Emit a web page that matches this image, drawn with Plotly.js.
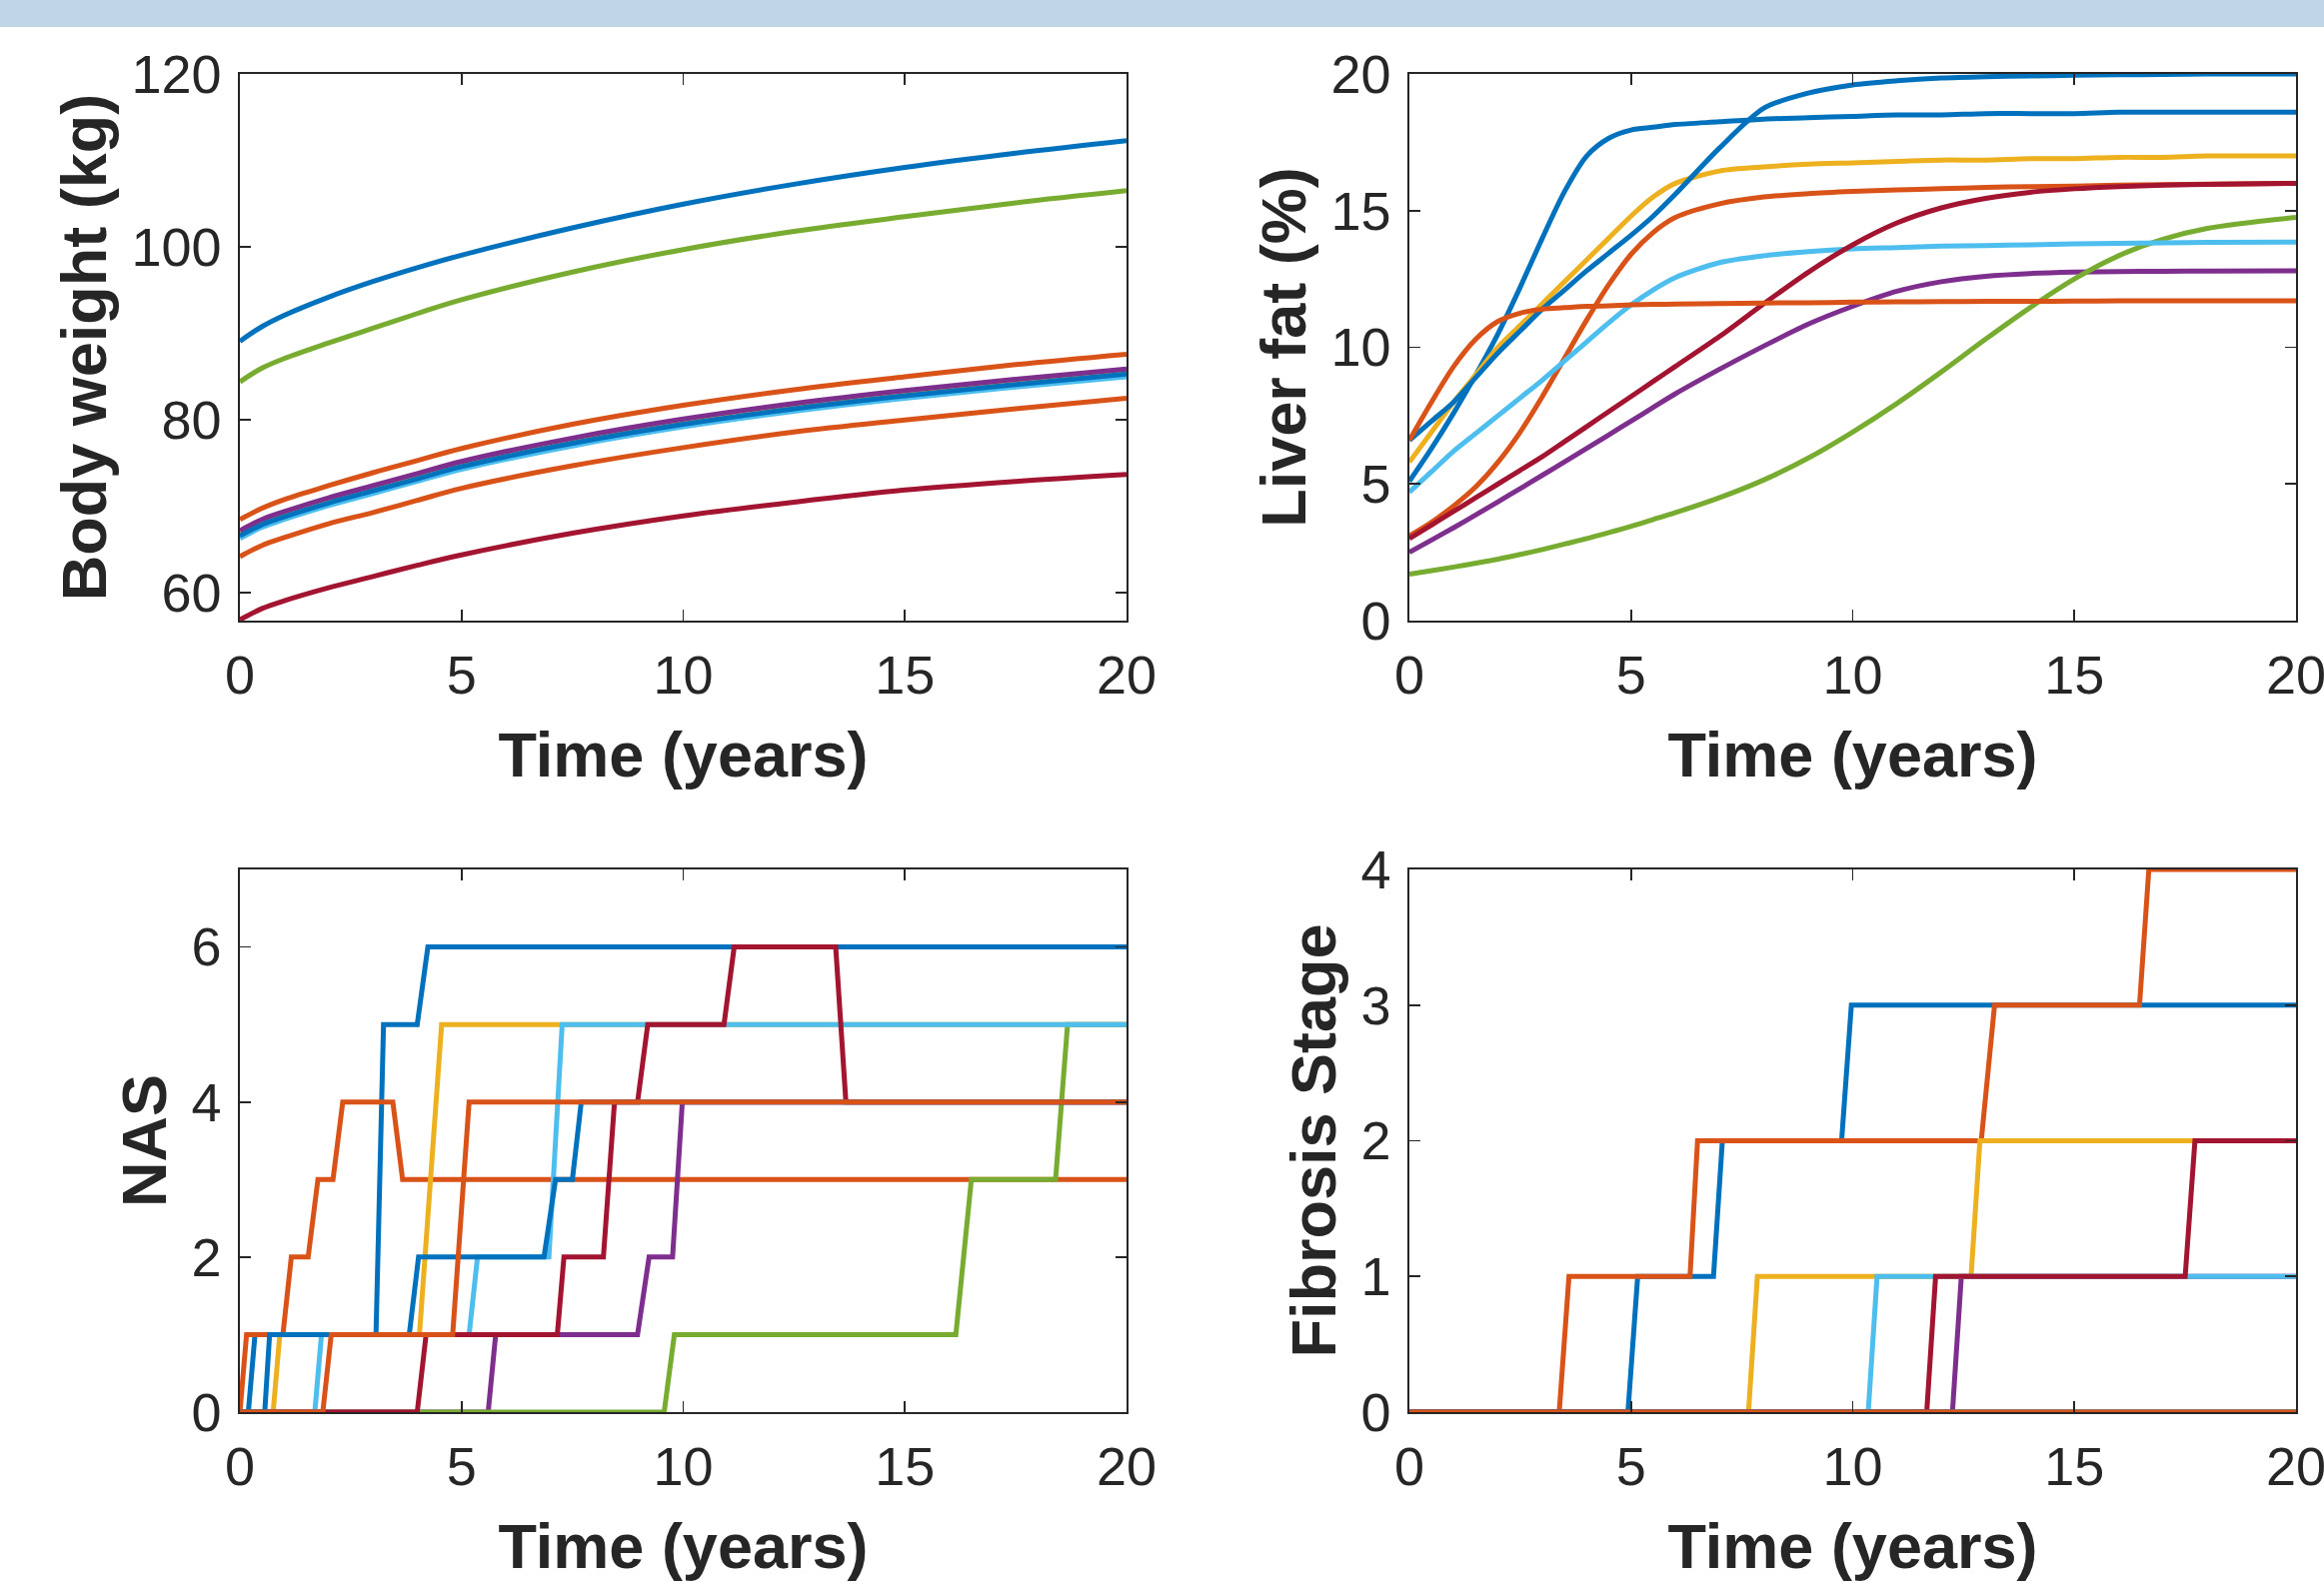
<!DOCTYPE html>
<html><head><meta charset="utf-8">
<script src="https://cdn.plot.ly/plotly-3.0.1.min.js"></script>
<style>html,body{margin:0;padding:0;background:#fff;overflow:hidden;} #chart{width:2325px;height:1586px;}</style>
</head><body><div id="chart"></div>
<script>
// MATLAB default colour order, 9 simulated patients
const seriesColors = ['#0072BD','#D95319','#EDB120','#7E2F8E','#77AC30','#4DBEEE','#A2142F','#0072BD','#D95319'];
const xTickVals = [0, 5, 10, 15, 20];

// ---------- Body weight (kg) ----------
const bwTime = [0, 0.5, 1, 2, 3, 4, 5, 7.5, 10, 12.5, 15, 17.5, 20];
const bw1 = [89.1, 90.8, 92.1, 94.2, 96.0, 97.6, 99.05, 102.2, 104.95, 107.25, 109.2, 110.85, 112.3];
const bw2 = [68.5, 69.8, 70.8, 72.4, 73.9, 75.3, 76.7, 79.5, 81.7, 83.5, 85.0, 86.4, 87.6];
const bw3 = [66.9, 68.2, 69.1, 70.7, 72.1, 73.5, 74.9, 77.6, 79.8, 81.6, 83.1, 84.4, 85.6];
const bw4 = [67.2, 68.5, 69.4, 71.0, 72.4, 73.8, 75.2, 77.9, 80.1, 81.9, 83.4, 84.7, 85.9];
const bw5 = [84.4, 86.0, 87.1, 88.9, 90.6, 92.3, 93.9, 97.1, 99.7, 101.8, 103.5, 105.1, 106.5];
const bw6 = [66.3, 67.6, 68.5, 70.1, 71.5, 72.9, 74.3, 77.0, 79.2, 81.0, 82.5, 83.8, 85.0];
const bw7 = [56.9, 58.2, 59.1, 60.6, 61.9, 63.2, 64.4, 66.9, 68.9, 70.5, 71.9, 72.9, 73.7];
const bw8 = [66.6, 67.9, 68.8, 70.4, 71.8, 73.2, 74.6, 77.3, 79.5, 81.3, 82.8, 84.1, 85.3];
const bw9 = [64.2, 65.5, 66.4, 68.0, 69.3, 70.7, 72.1, 74.7, 76.8, 78.6, 80.0, 81.3, 82.5];

// ---------- Liver fat (%) ----------
const lfTime = [0, 0.5, 1, 1.5, 2, 2.5, 3, 3.5, 4, 4.5, 5, 5.5, 6, 7, 8, 9, 10, 11, 12, 13, 14, 15, 16, 17, 18, 20];
const lf1 = [5.1, 6.3, 7.6, 9.0, 10.5, 12.2, 14.0, 15.7, 17.0, 17.65, 17.95, 18.05, 18.15, 18.25, 18.35, 18.4, 18.45, 18.5, 18.5, 18.55, 18.55, 18.55, 18.6, 18.6, 18.6, 18.6];
const lf2 = [3.1, 3.6, 4.2, 4.9, 5.8, 6.9, 8.2, 9.6, 11.0, 12.3, 13.4, 14.2, 14.75, 15.25, 15.5, 15.62, 15.7, 15.76, 15.8, 15.85, 15.88, 15.9, 15.93, 15.95, 15.97, 16.0];
const lf3 = [5.8, 6.9, 8.0, 9.0, 10.0, 10.8, 11.6, 12.4, 13.2, 14.0, 14.8, 15.5, 16.0, 16.45, 16.6, 16.7, 16.75, 16.8, 16.85, 16.85, 16.9, 16.9, 16.95, 16.95, 17.0, 17.0];
const lf4 = [2.5, 2.95, 3.4, 3.87, 4.35, 4.83, 5.32, 5.81, 6.3, 6.8, 7.3, 7.8, 8.3, 9.2, 10.05, 10.85, 11.5, 12.05, 12.4, 12.6, 12.7, 12.75, 12.77, 12.78, 12.79, 12.8];
const lf5 = [1.7, 1.83, 1.96, 2.1, 2.25, 2.42, 2.6, 2.8, 3.0, 3.22, 3.45, 3.7, 3.95, 4.5, 5.15, 5.95, 6.9, 7.95, 9.1, 10.3, 11.45, 12.5, 13.35, 13.95, 14.35, 14.75];
const lf6 = [4.7, 5.45, 6.2, 6.85, 7.5, 8.15, 8.8, 9.5, 10.2, 10.9, 11.55, 12.1, 12.55, 13.1, 13.35, 13.5, 13.6, 13.65, 13.7, 13.72, 13.75, 13.78, 13.8, 13.82, 13.84, 13.85];
const lf7 = [3.0, 3.5, 4.0, 4.5, 5.0, 5.5, 6.0, 6.55, 7.1, 7.65, 8.2, 8.75, 9.3, 10.4, 11.6, 12.75, 13.75, 14.55, 15.1, 15.45, 15.67, 15.8, 15.88, 15.93, 15.96, 16.0];
const lf8 = [6.6, 7.3, 8.0, 8.9, 9.8, 10.6, 11.4, 12.1, 12.8, 13.45, 14.1, 14.8, 15.6, 17.3, 18.75, 19.3, 19.6, 19.75, 19.85, 19.9, 19.93, 19.95, 19.97, 19.98, 20.0, 20.0];
const lf9 = [6.6, 8.0, 9.3, 10.3, 10.95, 11.25, 11.4, 11.45, 11.5, 11.52, 11.55, 11.57, 11.58, 11.6, 11.62, 11.63, 11.65, 11.66, 11.67, 11.68, 11.68, 11.69, 11.7, 11.7, 11.7, 11.7];

// ---------- NAS (step changes: time, score) ----------
const nasT1 = [0, 0.19, 0.34, 3.07, 3.24, 4.0, 4.24, 20];
const nasV1 = [0, 0, 1, 1, 5, 5, 6, 6];
const nasT2 = [0, 0.15, 0.97, 1.16, 1.54, 1.76, 2.1, 2.32, 3.45, 3.67, 20];
const nasV2 = [0, 1, 1, 2, 2, 3, 3, 4, 4, 3, 3];
const nasT3 = [0, 0.75, 0.9, 4.05, 4.55, 20];
const nasV3 = [0, 0, 1, 1, 5, 5];
const nasT4 = [0, 5.6, 5.77, 8.97, 9.23, 9.76, 9.98, 20];
const nasV4 = [0, 0, 1, 1, 2, 2, 4, 4];
const nasT5 = [0, 9.57, 9.8, 16.15, 16.5, 18.4, 18.67, 20];
const nasV5 = [0, 0, 1, 1, 3, 3, 5, 5];
const nasT6 = [0, 1.69, 1.84, 5.17, 5.36, 6.97, 7.27, 20];
const nasV6 = [0, 0, 1, 1, 2, 2, 5, 5];
const nasT7 = [0, 4.0, 4.2, 7.16, 7.31, 8.2, 8.45, 8.97, 9.2, 10.92, 11.15, 13.44, 13.67, 20];
const nasV7 = [0, 0, 1, 1, 2, 2, 4, 4, 5, 5, 6, 6, 4, 4];
const nasT8 = [0, 0.56, 0.67, 3.82, 4.03, 6.86, 7.12, 7.5, 7.7, 20];
const nasV8 = [0, 0, 1, 1, 2, 2, 3, 3, 4, 4];
const nasT9 = [0, 1.87, 2.06, 4.8, 5.17, 20];
const nasV9 = [0, 0, 1, 1, 4, 4];

// ---------- Fibrosis stage (time, stage) ----------
const fibT1 = [0, 4.93, 5.15, 6.86, 7.06, 9.75, 9.97, 20];
const fibV1 = [0, 0, 1, 1, 2, 2, 3, 3];
const fibT2 = [0, 3.38, 3.6, 6.33, 6.5, 12.9, 13.2, 16.47, 16.68, 20];
const fibV2 = [0, 0, 1, 1, 2, 2, 3, 3, 4, 4];
const fibT3 = [0, 7.65, 7.85, 12.67, 12.87, 20];
const fibV3 = [0, 0, 1, 1, 2, 2];
const fibT4 = [0, 12.25, 12.45, 20];
const fibV4 = [0, 0, 1, 1];
const fibT5 = [0, 20];
const fibV5 = [0, 0];
const fibT6 = [0, 10.35, 10.55, 20];
const fibV6 = [0, 0, 1, 1];
const fibT7 = [0, 11.67, 11.87, 17.5, 17.72, 20];
const fibV7 = [0, 0, 1, 1, 2, 2];
const fibT8 = [0, 20];
const fibV8 = [0, 0];
const fibT9 = [0, 20];
const fibV9 = [0, 0];

const bwSeries = [bw1, bw2, bw3, bw4, bw5, bw6, bw7, bw8, bw9];
const lfSeries = [lf1, lf2, lf3, lf4, lf5, lf6, lf7, lf8, lf9];
const nasTimes = [nasT1, nasT2, nasT3, nasT4, nasT5, nasT6, nasT7, nasT8, nasT9];
const nasVals = [nasV1, nasV2, nasV3, nasV4, nasV5, nasV6, nasV7, nasV8, nasV9];
const fibTimes = [fibT1, fibT2, fibT3, fibT4, fibT5, fibT6, fibT7, fibT8, fibT9];
const fibVals = [fibV1, fibV2, fibV3, fibV4, fibV5, fibV6, fibV7, fibV8, fibV9];

const LW = 5;
const traces = [];
for (let i = 0; i < 9; i++) {
  traces.push({x: bwTime, y: bwSeries[i], xaxis: 'x', yaxis: 'y', type: 'scatter', mode: 'lines',
    line: {color: seriesColors[i], width: LW, shape: 'spline', smoothing: 1}, showlegend: false, hoverinfo: 'skip'});
}
for (let i = 0; i < 9; i++) {
  traces.push({x: lfTime, y: lfSeries[i], xaxis: 'x2', yaxis: 'y2', type: 'scatter', mode: 'lines',
    line: {color: seriesColors[i], width: LW, shape: 'spline', smoothing: 0.8}, showlegend: false, hoverinfo: 'skip'});
}
for (let i = 0; i < 9; i++) {
  traces.push({x: nasTimes[i], y: nasVals[i], xaxis: 'x3', yaxis: 'y3', type: 'scatter', mode: 'lines',
    line: {color: seriesColors[i], width: LW}, showlegend: false, hoverinfo: 'skip'});
}
for (let i = 0; i < 9; i++) {
  traces.push({x: fibTimes[i], y: fibVals[i], xaxis: 'x4', yaxis: 'y4', type: 'scatter', mode: 'lines',
    line: {color: seriesColors[i], width: LW}, showlegend: false, hoverinfo: 'skip'});
}

const FONT = 'Liberation Sans, Arial, Helvetica, sans-serif';
const AX = '#262626';
const TITLE_FONT = {family: FONT, size: 63, color: AX, weight: 700};
function axisBase() {
  return {
    showline: true, linecolor: AX, linewidth: 1.6, mirror: 'ticks',
    ticks: 'inside', ticklen: 11, tickwidth: 1.6, tickcolor: AX,
    showgrid: false, zeroline: false, fixedrange: true,
    tickfont: {family: FONT, size: 54, color: AX},
    ticklabeloverflow: 'allow'
  };
}
function xAxis(domain, anchor) {
  return Object.assign(axisBase(), {
    domain: domain, anchor: anchor, range: [0, 20], tickvals: xTickVals, ticktext: xTickVals.map(String),
    ticklabelstandoff: 7,
    title: {text: 'Time (years)', font: TITLE_FONT, standoff: 28}
  });
}
function yAxis(domain, anchor, range, tickvals, label) {
  return Object.assign(axisBase(), {
    domain: domain, anchor: anchor, range: range, tickvals: tickvals, ticktext: tickvals.map(String),
    ticklabelstandoff: 6,
    title: {text: label, font: TITLE_FONT, standoff: 4}
  });
}

const W = 2325, H = 1586;
const colL = [240 / W, 1127 / W];
const colR = [1410 / W, 2297 / W];
const rowT = [1 - 621 / H, 1 - 74 / H];
const rowB = [1 - 1413 / H, 1 - 870 / H];

const layout = {
  width: W, height: H,
  margin: {l: 0, r: 0, t: 0, b: 0, pad: 0},
  paper_bgcolor: '#ffffff', plot_bgcolor: '#ffffff',
  showlegend: false,
  font: {family: FONT, color: AX},
  xaxis: xAxis(colL, 'y'),
  yaxis: yAxis(rowT, 'x', [56.8, 120], [60, 80, 100, 120], 'Body weight (kg)'),
  xaxis2: xAxis(colR, 'y2'),
  yaxis2: yAxis(rowT, 'x2', [0, 20], [0, 5, 10, 15, 20], 'Liver fat (%)'),
  xaxis3: xAxis(colL, 'y3'),
  yaxis3: yAxis(rowB, 'x3', [0, 7], [0, 2, 4, 6], 'NAS'),
  xaxis4: xAxis(colR, 'y4'),
  yaxis4: yAxis(rowB, 'x4', [0, 4], [0, 1, 2, 3, 4], 'Fibrosis Stage'),
  shapes: [{type: 'rect', xref: 'paper', yref: 'paper', x0: 0, x1: 1, y0: 1 - 27 / H, y1: 1,
    fillcolor: '#c0d5e6', line: {width: 0}, layer: 'below'}]
};

Plotly.newPlot('chart', traces, layout, {staticPlot: true, displayModeBar: false});
</script></body></html>
